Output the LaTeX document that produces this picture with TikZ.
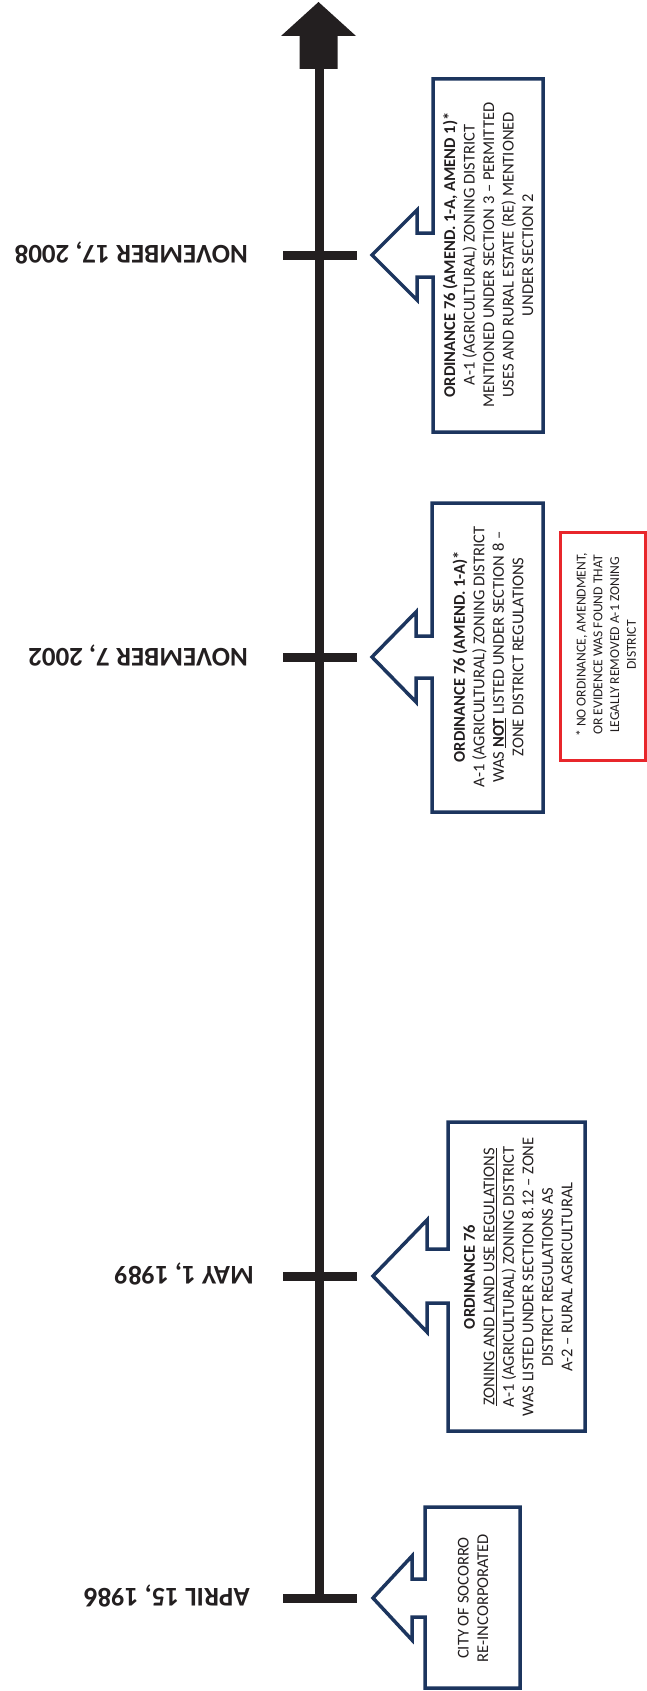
\documentclass[tikz,border=0pt]{standalone}
\usepackage{fontspec}
\setmainfont{Carlito}
\definecolor{navy}{HTML}{1C355E}
\definecolor{ink}{HTML}{231F20}
\definecolor{redbox}{HTML}{E8262B}
\tikzset{
  callout/.style={draw=navy, line width=3.5pt, line join=miter, fill=white},
  boxtext/.style={rotate=90, align=center, text=ink, inner sep=0pt, font=\fontsize{16.5}{19.5}\selectfont},
  notetext/.style={rotate=90, align=center, text=ink, inner sep=0pt, font=\fontsize{13.6}{16.8}\selectfont},
  datetext/.style={rotate=180, anchor=west, text=ink, inner sep=0pt, text depth=0pt, font=\bfseries\fontsize{27}{30}\selectfont},
  tick/.style={draw=ink, line width=9pt},
  axis/.style={draw=ink, line width=9pt},
}
% tip, barb x, box left, box right, top, bottom, centre y, barb half, notch half
\newcommand{\calloutshape}[9]{%
  \draw[callout] (#1,#7) -- (#2,#7-#8) -- (#2,#7-#9) -- (#3,#7-#9) -- (#3,#5) -- (#4,#5)
    -- (#4,#6) -- (#3,#6) -- (#3,#7+#9) -- (#2,#7+#9) -- (#2,#7+#8) -- cycle;}
\begin{document}
\begin{tikzpicture}[x=1pt,y=-1pt]
\useasboundingbox (0,0) rectangle (647,1691);
\clip (0,0) rectangle (647,1691);
% axis
\coordinate (top) at (319,69);
\coordinate (t2008) at (319,255);
\coordinate (t2002) at (319,657);
\coordinate (t1989) at (319,1276);
\coordinate (t1986) at (319,1598);
\draw[axis] (top) -- (t1986);
\fill[ink] (318.5,2) -- (356,36) -- (337.5,36) -- (337.5,69) -- (299.5,69) -- (299.5,36) -- (281,36) -- cycle;
% ticks
\foreach \t in {t2008,t2002,t1989,t1986}{
  \draw[tick] ([xshift=-36pt]\t) -- ([xshift=38pt]\t);
}
% dates
\node[datetext] (d2008) at (248,255) {NOVEMBER 17, 2008};
\node[datetext] (d2002) at (248,657) {NOVEMBER 7, 2002};
\node[datetext] (d1989) at (254,1276) {MAY 1, 1989};
\node[datetext] (d1986) at (250,1598) {APRIL 15, 1986};
% callouts
\calloutshape{372}{417}{433}{543}{79}{432}{255}{45}{22}
\calloutshape{372}{416}{432}{543}{503}{812}{657}{45}{21}
\calloutshape{373}{427}{448}{585}{1122}{1431}{1276}{56}{27}
\calloutshape{373}{412}{425}{520}{1507}{1688}{1598}{42}{19}
\node[boxtext] (b2008) at (488,255) {\textbf{ORDINANCE 76 (AMEND. 1-A, AMEND 1)*}\\A-1 (AGRICULTURAL) ZONING DISTRICT\\MENTIONED UNDER SECTION 3 – PERMITTED\\USES AND RURAL ESTATE (RE) MENTIONED\\UNDER SECTION 2};
\node[boxtext] (b2002) at (488,657) {\textbf{ORDINANCE 76 (AMEND. 1-A)*}\\A-1 (AGRICULTURAL) ZONING DISTRICT\\WAS \textbf{\underline{NOT}} LISTED UNDER SECTION 8 –\\ZONE DISTRICT REGULATIONS};
\node[boxtext] (b1989) at (518,1277) {\textbf{ORDINANCE 76}\\\underline{ZONING AND LAND USE REGULATIONS}\\A-1 (AGRICULTURAL) ZONING DISTRICT\\WAS LISTED UNDER SECTION 8.12 – ZONE\\DISTRICT REGULATIONS AS\\A-2 – RURAL AGRICULTURAL};
\node[boxtext] (b1986) at (473,1598) {CITY OF SOCORRO\\RE-INCORPORATED};
% note
\draw[draw=redbox, line width=3pt] (560,532) rectangle (645.5,760);
\node[notetext] (note) at (606,645) {* NO ORDINANCE, AMENDMENT,\\OR EVIDENCE WAS FOUND THAT\\LEGALLY REMOVED A-1 ZONING\\DISTRICT};
\end{tikzpicture}
\end{document}
